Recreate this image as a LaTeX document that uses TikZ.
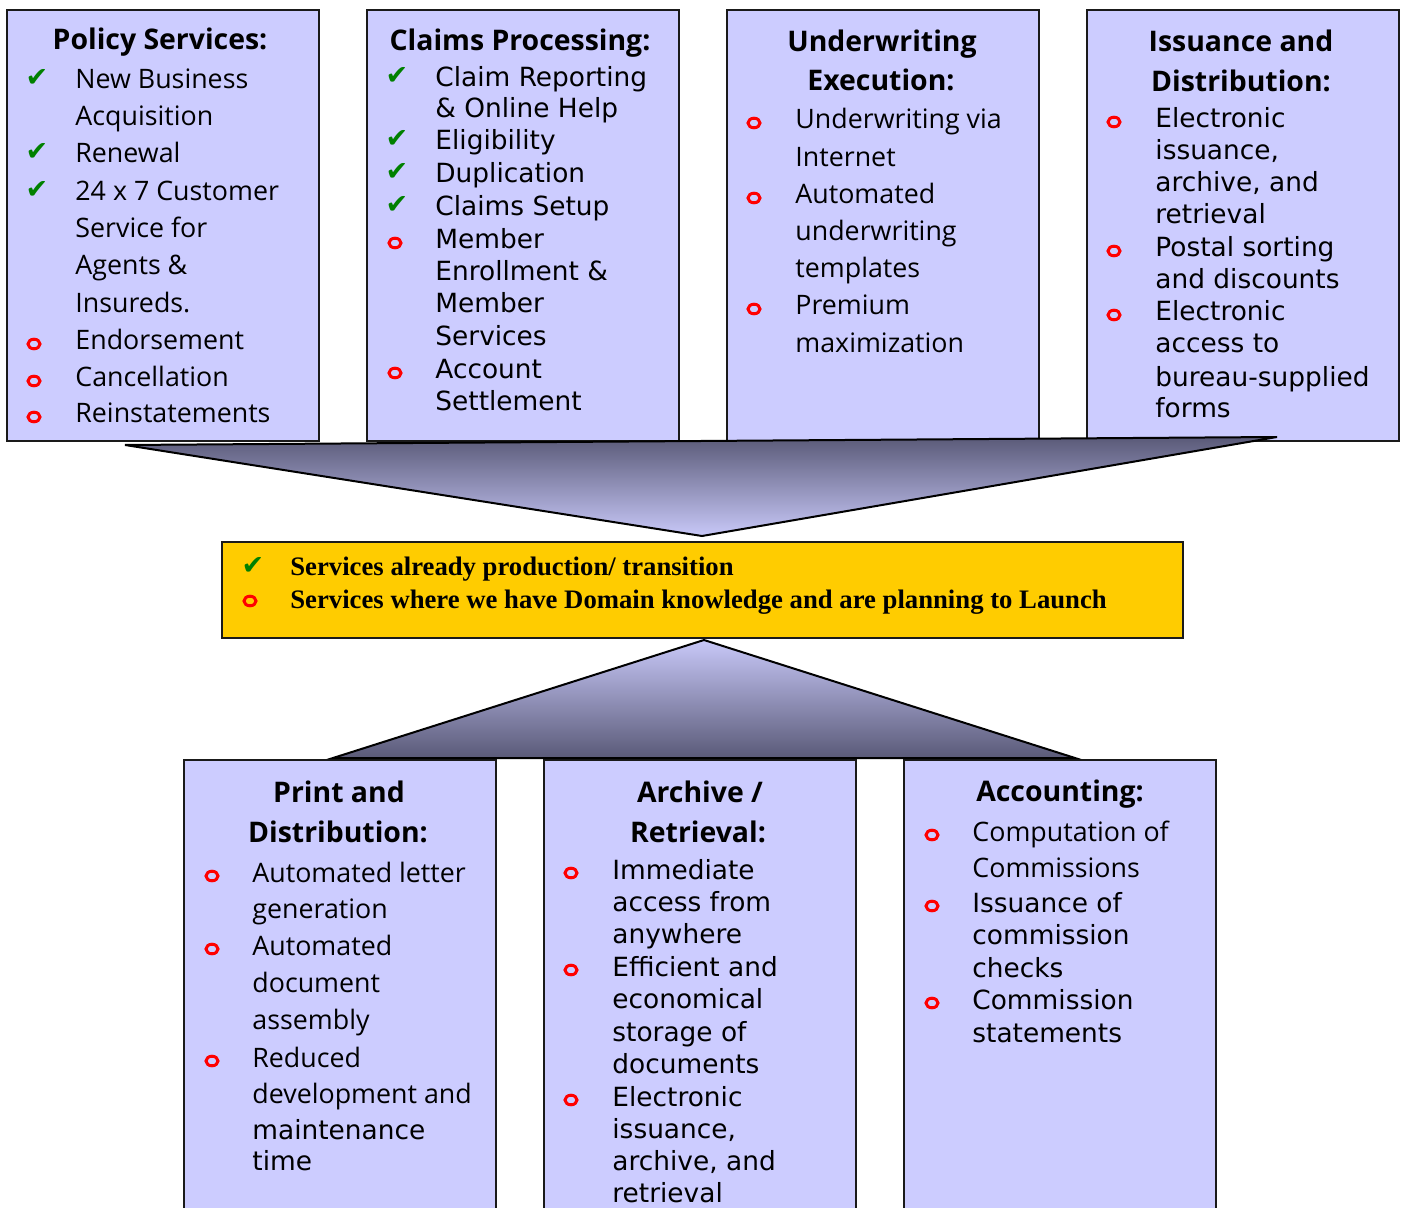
\documentclass[tikz,border=0pt]{standalone}
\usepackage{fontspec}
\usetikzlibrary{shapes.geometric}
\setmainfont{DejaVu Sans}
\newfontfamily\vdfont{DejaVu Sans}
\newfontfamily\cmfont{Open Sans}
\newfontfamily\tmfont{Liberation Serif}
\newfontfamily\symfont{DejaVu Sans}
\definecolor{boxfill}{HTML}{CCCCFF}
\definecolor{boxline}{HTML}{1A1A1A}
\definecolor{legfill}{HTML}{FFCC00}
\definecolor{chkgreen}{HTML}{008000}
\definecolor{funneldark}{HTML}{5A5A78}
\definecolor{funnellight}{HTML}{C8C8F8}
\tikzset{
  panel/.style={draw=boxline, fill=boxfill, line width=1pt},
  legendbox/.style={draw=boxline, fill=legfill, line width=1pt},
  cmline/.style={anchor=base west, inner sep=0pt, font=\cmfont\fontsize{13.4}{15}\selectfont},
  vdline/.style={anchor=base west, inner sep=0pt, font=\vdfont\fontsize{13.2}{15}\selectfont},
  ttline/.style={anchor=base, inner sep=0pt, font=\cmfont\bfseries\fontsize{14.2}{16}\selectfont},
  lgline/.style={anchor=base west, inner sep=0pt, font=\tmfont\bfseries\fontsize{13.35}{15}\selectfont},
  chk/.style={inner sep=0pt, text=chkgreen, font=\symfont\fontsize{13.5}{15}\selectfont},
  redo/.style={shape=ellipse, draw=red, line width=1.5pt, minimum width=6pt, minimum height=4.8pt, inner sep=0pt},
}
\newcommand{\CmLine}[4]{\node[cmline] (#1) at (#2,#3) {#4};}
\newcommand{\VdLine}[4]{\node[vdline] (#1) at (#2,#3) {#4};}
\newcommand{\TtLine}[4]{\node[ttline] (#1) at (#2,#3) {#4};}
\newcommand{\CheckMk}[3]{\node[chk] (#1) at (#2,#3) {✔};}
\newcommand{\RedO}[3]{\node[redo] (#1) at (#2,#3) {};}
\begin{document}
\begin{tikzpicture}[x=0.5pt,y=-0.5pt]
\clip (0,0) rectangle (1403,1208);
\fill[white] (0,0) rectangle (1403,1208);
% top panels
\node[panel, anchor=north west, minimum width=156pt, minimum height=215.5pt, inner sep=0pt] (p1) at (6,9) {};
\node[panel, anchor=north west, minimum width=156pt, minimum height=215.5pt, inner sep=0pt] (p2) at (366,9) {};
\node[panel, anchor=north west, minimum width=156pt, minimum height=215.5pt, inner sep=0pt] (p3) at (726,9) {};
\node[panel, anchor=north west, minimum width=156pt, minimum height=215.5pt, inner sep=0pt] (p4) at (1086,9) {};
% bottom panels
\node[panel, anchor=north west, minimum width=156pt, minimum height=240pt, inner sep=0pt] (p5) at (183,759) {};
\node[panel, anchor=north west, minimum width=156pt, minimum height=240pt, inner sep=0pt] (p6) at (543,759) {};
\node[panel, anchor=north west, minimum width=156pt, minimum height=240pt, inner sep=0pt] (p7) at (903,759) {};
% legend
\node[legendbox, anchor=north west, minimum width=480.5pt, minimum height=48pt, inner sep=0pt] (leg) at (221,541) {};
% funnels
\coordinate (ftl) at (125,445);
\coordinate (ftr) at (1277,437);
\coordinate (fta) at (702,536);
\draw[draw=black, line width=1pt, top color=funneldark, bottom color=funnellight, line join=miter] (ftl) -- (ftr) -- (fta) -- cycle;
\coordinate (fbl) at (333,758);
\coordinate (fbr) at (1075,758);
\coordinate (fba) at (704,640);
\draw[draw=black, line width=1pt, top color=funnellight, bottom color=funneldark, line join=miter] (fba) -- (fbr) -- (fbl) -- cycle;
% ---- Box 1: Policy Services
\TtLine{t1}{160}{50}{Policy Services:}
\CmLine{a1}{75}{89}{New Business}
\CmLine{a2}{75}{126}{Acquisition}
\CmLine{a3}{75}{163}{Renewal}
\CmLine{a4}{75}{201}{24 x 7 Customer}
\CmLine{a5}{75}{238}{Service for}
\CmLine{a6}{75}{275}{Agents \&}
\CmLine{a7}{75}{313}{Insureds.}
\CmLine{a8}{75}{350}{Endorsement}
\CmLine{a9}{75}{387}{Cancellation}
\CmLine{a10}{75}{423}{Reinstatements}
\CheckMk{ac1}{37}{78}
\CheckMk{ac2}{37}{152}
\CheckMk{ac3}{37}{190}
\RedO{ao1}{34}{344}
\RedO{ao2}{34}{381}
\RedO{ao3}{34}{417}
% ---- Box 2: Claims Processing
\TtLine{t2}{520}{51}{Claims Processing:}
\VdLine{b1}{435}{87}{Claim Reporting}
\VdLine{b2}{435}{118}{\& Online Help}
\VdLine{b3}{435}{150}{Eligibility}
\VdLine{b4}{435}{183}{Duplication}
\VdLine{b5}{435}{216}{Claims Setup}
\VdLine{b6}{435}{249}{Member}
\VdLine{b7}{435}{281}{Enrollment \&}
\VdLine{b8}{435}{313}{Member}
\VdLine{b9}{435}{346}{Services}
\VdLine{b10}{435}{379}{Account}
\VdLine{b11}{435}{411}{Settlement}
\CheckMk{bc1}{397}{76}
\CheckMk{bc2}{397}{139}
\CheckMk{bc3}{397}{172}
\CheckMk{bc4}{397}{205}
\RedO{bo1}{395}{243}
\RedO{bo2}{395}{373}
% ---- Box 3: Underwriting Execution
\TtLine{t3a}{882}{52}{Underwriting}
\TtLine{t3b}{881}{91}{Execution:}
\CmLine{c1}{795}{129}{Underwriting via}
\CmLine{c2}{795}{167}{Internet}
\CmLine{c3}{795}{204}{Automated}
\CmLine{c4}{795}{241}{underwriting}
\CmLine{c5}{795}{278}{templates}
\CmLine{c6}{795}{315}{Premium}
\CmLine{c7}{795}{353}{maximization}
\RedO{co1}{754}{123}
\RedO{co2}{754}{198}
\RedO{co3}{754}{309}
% ---- Box 4: Issuance and Distribution
\TtLine{t4a}{1241}{52}{Issuance and}
\TtLine{t4b}{1241}{92}{Distribution:}
\VdLine{d1}{1155}{128}{Electronic}
\VdLine{d2}{1155}{160}{issuance,}
\VdLine{d3}{1155}{192}{archive, and}
\VdLine{d4}{1155}{224}{retrieval}
\VdLine{d5}{1155}{257}{Postal sorting}
\VdLine{d6}{1155}{289}{and discounts}
\VdLine{d7}{1155}{321}{Electronic}
\VdLine{d8}{1155}{353}{access to}
\VdLine{d9}{1155}{387}{bureau-supplied}
\VdLine{d10}{1155}{418}{forms}
\RedO{do1}{1114}{122}
\RedO{do2}{1114}{251}
\RedO{do3}{1114}{315}
% ---- Legend
\CheckMk{lc}{253}{566}
\RedO{lo}{250}{601}
\node[lgline] (l1) at (290,575) {Services already production/ transition};
\node[lgline] (l2) at (290,608) {Services where we have Domain knowledge and are planning to Launch};
% ---- Box 5: Print and Distribution
\TtLine{t5a}{339}{802}{Print and}
\TtLine{t5b}{338}{842}{Distribution:}
\CmLine{e1}{252}{882}{Automated letter}
\CmLine{e2}{252}{918}{generation}
\CmLine{e3}{252}{955}{Automated}
\CmLine{e4}{252}{992}{document}
\CmLine{e5}{252}{1029}{assembly}
\CmLine{e6}{252}{1067}{Reduced}
\CmLine{e7}{252}{1103}{development and}
\VdLine{e8}{252}{1139}{maintenance}
\VdLine{e9}{252}{1170}{time}
\RedO{eo1}{212}{876}
\RedO{eo2}{212}{949}
\RedO{eo3}{212}{1061}
% ---- Box 6: Archive / Retrieval
\TtLine{t6a}{700}{802}{Archive /}
\TtLine{t6b}{698}{842}{Retrieval:}
\VdLine{f1}{612}{879}{Immediate}
\VdLine{f2}{612}{911}{access from}
\VdLine{f3}{612}{943}{anywhere}
\VdLine{f4}{612}{976}{Efficient and}
\VdLine{f5}{612}{1008}{economical}
\VdLine{f6}{612}{1041}{storage of}
\VdLine{f7}{612}{1073}{documents}
\VdLine{f8}{612}{1106}{Electronic}
\VdLine{f9}{612}{1138}{issuance,}
\VdLine{f10}{612}{1170}{archive, and}
\VdLine{f11}{612}{1202}{retrieval}
\RedO{fo1}{571}{873}
\RedO{fo2}{571}{970}
\RedO{fo3}{571}{1100}
% ---- Box 7: Accounting
\TtLine{t7}{1060}{801}{Accounting:}
\CmLine{g1}{972}{841}{Computation of}
\CmLine{g2}{972}{877}{Commissions}
\VdLine{g3}{972}{912}{Issuance of}
\VdLine{g4}{972}{944}{commission}
\VdLine{g5}{972}{977}{checks}
\VdLine{g6}{972}{1009}{Commission}
\VdLine{g7}{972}{1042}{statements}
\RedO{go1}{932}{835}
\RedO{go2}{932}{906}
\RedO{go3}{932}{1003}
\end{tikzpicture}
\end{document}
